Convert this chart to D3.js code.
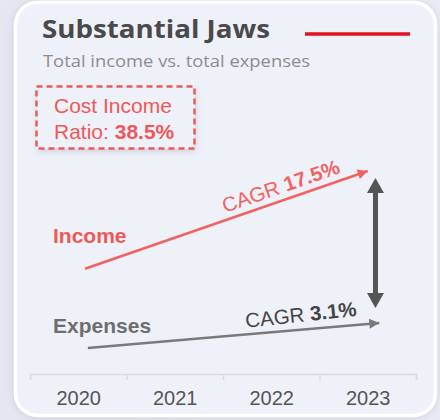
<!DOCTYPE html>
<html><head><meta charset="utf-8">
<script src="https://cdn.jsdelivr.net/npm/d3@7"></script>
<style>
html,body{margin:0;padding:0;background:#e6e9f1;}
svg{display:block;}
</style></head>
<body>
<svg id="chart" width="440" height="420"></svg>
<script>
// ---- data ----
const years = [2020, 2021, 2022, 2023];
const tickLabels = ["2020", "2021", "2022", "2023"];
// line endpoints: position on the year axis and an index value
const incomeYears = [2020.07, 2023.0];
const incomeValues = [47.0, 90.6];
const expenseYears = [2020.1, 2023.12];
const expenseValues = [11.6, 22.8];
const gapYear = [2023.08];
const gapValues = [29.5, 87.5];
const incomeCagr = ["CAGR ", "17.5%"];
const expenseCagr = ["CAGR ", "3.1%"];
const ratioLabel = ["Cost Income", "Ratio: ", "38.5%"];
const seriesNames = ["Income", "Expenses"];
const title = "Substantial Jaws";
const subtitle = "Total income vs. total expenses";

const svg = d3.select("#chart");
const defs = svg.append("defs");

// background gradient + card shadow
const bg = defs.append("linearGradient").attr("id","bg").attr("x1",0).attr("y1",0).attr("x2",1).attr("y2",0);
bg.append("stop").attr("offset","0%").attr("stop-color","#e4e7f0");
bg.append("stop").attr("offset","100%").attr("stop-color","#e8ebf3");
svg.append("rect").attr("width",440).attr("height",420).attr("fill","url(#bg)");

const sh = defs.append("filter").attr("id","sh").attr("x","-20%").attr("y","-20%").attr("width","140%").attr("height","140%");
sh.append("feDropShadow").attr("dx",0).attr("dy",1).attr("stdDeviation",4).attr("flood-color","#9aa3b8").attr("flood-opacity",0.35);
const sh2 = defs.append("filter").attr("id","sh2").attr("x","-20%").attr("y","-20%").attr("width","140%").attr("height","150%");
sh2.append("feDropShadow").attr("dx",1).attr("dy",3).attr("stdDeviation",3).attr("flood-color","#8a93a8").attr("flood-opacity",0.35);

svg.append("rect").attr("x",15.5).attr("y",2.5).attr("width",420).attr("height",413)
  .attr("rx",22).attr("fill","#eef1f8").attr("stroke","#ffffff").attr("stroke-width",3.5)
  .attr("filter","url(#sh)");

// title
svg.append("text").attr("x",42).attr("y",38).text(title)
  .attr("font-family","'Open Sans', sans-serif").attr("font-weight",700)
  .attr("font-size",25).attr("fill","#4a4a4c")
  .attr("textLength",228).attr("lengthAdjust","spacingAndGlyphs");
svg.append("line").attr("x1",305).attr("x2",410).attr("y1",34).attr("y2",34)
  .attr("stroke","#e2131f").attr("stroke-width",3.5);
svg.append("text").attr("x",43).attr("y",67).text(subtitle)
  .attr("font-family","'Open Sans', sans-serif").attr("font-weight",400)
  .attr("font-size",16).attr("fill","#8c8c8e")
  .attr("textLength",267).attr("lengthAdjust","spacingAndGlyphs");

// ratio box
svg.append("rect").attr("x",36.5).attr("y",86.5).attr("width",158).attr("height",62)
  .attr("fill","#eef1f8").attr("filter","url(#sh2)");
svg.append("rect").attr("x",36.5).attr("y",86.5).attr("width",158).attr("height",62)
  .attr("fill","#eef1f8").attr("stroke","#f05858").attr("stroke-width",2.5)
  .attr("stroke-dasharray","6,4");
const rt = svg.append("g").attr("font-family","'Liberation Sans', Arial, sans-serif")
  .attr("font-size",21).attr("fill","#f05858");
rt.append("text").attr("x",54).attr("y",113).text(ratioLabel[0]);
const r2 = rt.append("text").attr("x",54).attr("y",139);
r2.append("tspan").text(ratioLabel[1]);
r2.append("tspan").attr("font-weight",700).text(ratioLabel[2]);

// scales
const x = d3.scaleLinear().domain([2019.5, 2023.5]).range([30, 416]);
const y = d3.scaleLinear().domain([0, 100]).range([374, 150]);

// axis
const axisG = svg.append("g").attr("transform","translate(0,374)");
axisG.call(d3.axisBottom(x).tickValues(d3.range(2019.5, 2024, 1)).tickSize(6).tickFormat(""));
axisG.select(".domain").attr("stroke","#d9dce2").attr("stroke-width",1.5);
axisG.selectAll(".tick line").attr("stroke","#d9dce2").attr("stroke-width",1.5);
const labG = svg.append("g").attr("transform","translate(0,374)");
labG.call(d3.axisBottom(x).tickValues(years).tickSize(0).tickPadding(0).tickFormat((d,i)=>tickLabels[i]));
labG.select(".domain").remove();
labG.selectAll(".tick text").attr("font-family","'Liberation Sans', Arial, sans-serif")
  .attr("font-size",20).attr("fill","#555555").attr("dy",0).attr("y",31);

// arrow markers
function marker(id, color){
  defs.append("marker").attr("id",id).attr("viewBox","0 0 10 10").attr("refX",10).attr("refY",5)
    .attr("markerUnits","userSpaceOnUse").attr("markerWidth",12).attr("markerHeight",10)
    .attr("orient","auto")
    .append("path").attr("d","M0,0 L10,5 L0,10 Z").attr("fill",color);
}
marker("ai","#f26262");
marker("ae","#7a7a7a");

const line = d3.line().x(d=>x(d[0])).y(d=>y(d[1]));
const inc = incomeYears.map((v,i)=>[v, incomeValues[i]]);
const exp = expenseYears.map((v,i)=>[v, expenseValues[i]]);
svg.append("path").attr("d",line(inc)).attr("fill","none").attr("stroke","#f26262")
  .attr("stroke-width",2.6).attr("marker-end","url(#ai)");
svg.append("path").attr("d",line(exp)).attr("fill","none").attr("stroke","#7a7a7a")
  .attr("stroke-width",2.6).attr("marker-end","url(#ae)");

// CAGR labels along lines
function cagr(pts, parts, color, endYear, off, extraRot){
  const [a,b] = pts;
  const ang = Math.atan2(y(b[1])-y(a[1]), x(b[0])-x(a[0]))*180/Math.PI + extraRot;
  const t = (endYear - a[0])/(b[0]-a[0]);
  const px = x(endYear), py = y(a[1] + t*(b[1]-a[1]));
  const tx = svg.append("text").attr("transform",`translate(${px},${py}) rotate(${ang})`)
    .attr("y",-off).attr("text-anchor","end")
    .attr("font-family","'Liberation Sans', Arial, sans-serif").attr("font-size",20.5).attr("fill",color);
  tx.append("tspan").text(parts[0]);
  tx.append("tspan").attr("font-weight",700).text(parts[1]);
}
cagr(inc, incomeCagr, "#f26262", 2022.75, 7, 0);
cagr(exp, expenseCagr, "#444444", 2022.9, 9, -1.2);

// series labels
svg.append("text").attr("x",53).attr("y",y(incomeValues[0]) - 26).text(seriesNames[0])
  .attr("font-family","'Liberation Sans', Arial, sans-serif").attr("font-weight",700)
  .attr("font-size",21).attr("fill","#f05858");
svg.append("text").attr("x",53).attr("y",y(expenseValues[0]) - 15).text(seriesNames[1])
  .attr("font-family","'Liberation Sans', Arial, sans-serif").attr("font-weight",700)
  .attr("font-size",21).attr("fill","#6e6e6e");

// double arrow (gap)
const gx = x(gapYear[0]), gTop = y(gapValues[1]), gBot = y(gapValues[0]);
const hw = 8.5, hh = 15;
svg.append("line").attr("x1",gx).attr("x2",gx).attr("y1",gTop+hh-1).attr("y2",gBot-hh+1)
  .attr("stroke","#555555").attr("stroke-width",5);
svg.append("path").attr("d",`M${gx},${gTop} L${gx+hw},${gTop+hh} L${gx-hw},${gTop+hh} Z`).attr("fill","#555555");
svg.append("path").attr("d",`M${gx},${gBot} L${gx+hw},${gBot-hh} L${gx-hw},${gBot-hh} Z`).attr("fill","#555555");
</script>
</body></html>
